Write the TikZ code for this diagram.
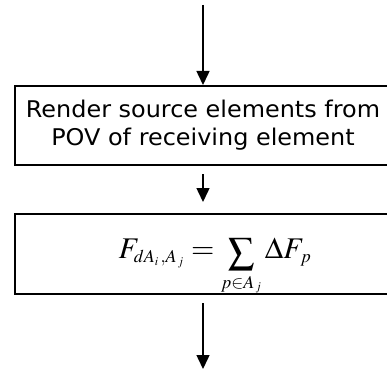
\documentclass[tikz,border=0pt]{standalone}
\usepackage{mathptmx}
\usepackage{fontspec}
\usepackage{graphicx}
\usepackage{tikz}
\usetikzlibrary{arrows.meta,positioning}
\newfontfamily\boxfont[FakeStretch=1.04]{DejaVu Sans}
\DeclareMathSizes{30}{30}{18}{12}
\newcommand{\bigsum}{\mathop{\raisebox{-0.22\height}{\scalebox{1.25}{$\sum$}}}\limits}

\begin{document}
\begin{tikzpicture}[
    x=1pt, y=-1pt,
    stage/.style={draw=black, line width=2pt, rectangle, align=center,
                  minimum width=376pt, inner sep=0pt, fill=white},
    arrow/.style={-{Triangle[width=13pt,length=14pt]}, line width=1.5pt, color=black}
]
\clip (0,0) rectangle (387,371);
\fill[white] (0,0) rectangle (387,371);

\coordinate (start) at (203,5);
\node[stage, minimum height=79pt, font=\boxfont\fontsize{23}{28}\selectfont]
    (render) at (203,125.5) {Render source elements from\\ POV of receiving element};
\node[stage, minimum height=80pt, text height=20pt, text depth=12pt,
      font=\fontsize{30}{36}\selectfont]
    (formula) at (203,254)
    {$\displaystyle \kern24pt F_{dA_i\,,A_{\,j}} = \bigsum_{p\in A_{\,j}}\Delta F_{\,p}$};
\coordinate (stop) at (203,369);

\draw[arrow] (start) -- (render);
\draw[arrow, shorten <=8pt, shorten >=11pt] (render) -- (formula);
\draw[arrow, shorten <=8pt] (formula) -- (stop);
\end{tikzpicture}
\end{document}
